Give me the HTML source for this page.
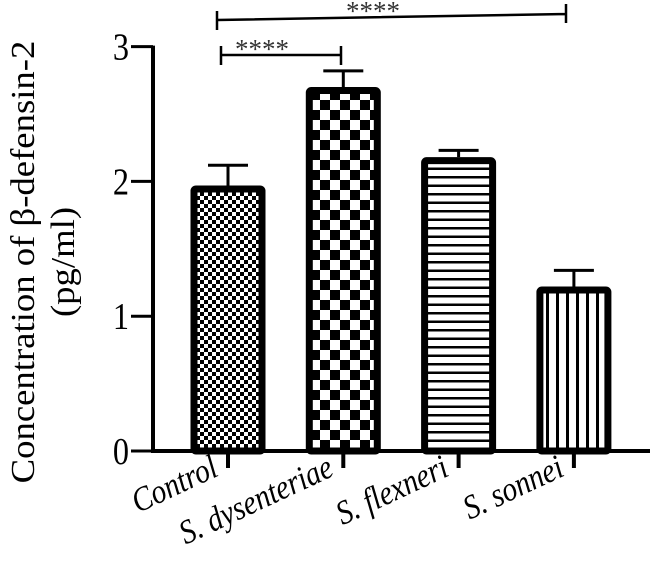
<!DOCTYPE html>
<html><head><meta charset="utf-8"><style>
html,body{margin:0;padding:0;background:#fff;}
svg{display:block;font-family:"Liberation Serif",serif;}
</style></head><body>
<svg id="chart" width="650" height="572" viewBox="0 0 650 572">
<defs>
<pattern id="pSmallCheck" width="8" height="8" patternUnits="userSpaceOnUse">
<rect width="8" height="8" fill="#fff"/><rect width="4" height="4" fill="#000"/><rect x="4" y="4" width="4" height="4" fill="#000"/></pattern>
<pattern id="pBigCheck" width="20" height="20" patternUnits="userSpaceOnUse">
<rect width="20" height="20" fill="#fff"/><rect width="10" height="10" fill="#000"/><rect x="10" y="10" width="10" height="10" fill="#000"/></pattern>
<pattern id="pHoriz" width="10" height="8.5" patternUnits="userSpaceOnUse">
<rect width="10" height="8.5" fill="#fff"/><rect y="6" width="10" height="2.5" fill="#000"/></pattern>
<pattern id="pVert" width="10" height="10" patternUnits="userSpaceOnUse">
<rect width="10" height="10" fill="#fff"/><rect x="6" width="3" height="10" fill="#000"/></pattern>
</defs>
<g id="bars"></g>
<g id="axes"></g>
<text transform="translate(34,262) rotate(-90) scale(1.08,1)" text-anchor="middle" font-size="34">Concentration of β-defensin-2</text>
<text transform="translate(74,262) rotate(-90) scale(1.08,1)" text-anchor="middle" font-size="34">(pg/ml)</text>
<g stroke="#000" stroke-width="2.5" fill="none">
<path d="M217,20 L566,14 M217,11 V30 M566,4 V23"/></g>
<text x="373" y="20" text-anchor="middle" font-size="27" fill="#333">****</text>
<g stroke="#000" stroke-width="2.5" fill="none">
<path d="M221,55 H341 M221,46 V65 M341,46 V65"/></g>
<text x="262" y="58" text-anchor="middle" font-size="27" fill="#333">****</text>
<script>
const categories = ["Control","S. dysenteriae","S. flexneri","S. sonnei"];
const means = [1.97, 2.70, 2.18, 1.22];
const errors = [0.15, 0.12, 0.05, 0.12];
const yTicks = [0,1,2,3];
const fills = ["url(#pSmallCheck)","url(#pBigCheck)","url(#pHoriz)","url(#pVert)"];
const NS="http://www.w3.org/2000/svg";
const y0=451, pxPerUnit=134.8, xAxis=153;
function yScale(v){return y0 - v*pxPerUnit;}
function xScale(i){return 228 + i*115.3;}
const bars=document.getElementById('bars'), axes=document.getElementById('axes');
function mk(tag,attrs,parent){const e=document.createElementNS(NS,tag);for(const k in attrs)e.setAttribute(k,attrs[k]);parent.appendChild(e);return e;}
categories.forEach((c,i)=>{
  const cx=xScale(i), top=yScale(means[i]), et=yScale(means[i]+errors[i]);
  const eb=mk('path',{d:`M${cx},${top} V${et} M${cx-20},${et} H${cx+20}`,stroke:'#000','stroke-width':3,fill:'none'},bars);
  
  
  const r=mk('rect',{x:cx-34,y:top+3.5,width:68,height:y0-top-3.5,fill:fills[i],stroke:'#000','stroke-width':7,rx:2},bars);
  
  
  const t=mk('path',{d:`M${cx},${y0} V${y0+17}`,stroke:'#000','stroke-width':4},axes);
  
  
  const lbl=mk('text',{transform:`translate(${cx-8},${y0+24}) rotate(-25) scale(0.95,1.1)`,'text-anchor':'end','font-size':31,'font-style':'italic'},axes);
  lbl.textContent=c;
  
  
});
const ya=mk('path',{d:`M${xAxis},${yScale(3)-1} V${y0+2}`,stroke:'#000','stroke-width':4},axes);


const xa=mk('path',{d:`M${xAxis-2},${y0} H650`,stroke:'#000','stroke-width':4},axes);


yTicks.forEach(v=>{
  const y=yScale(v);
  const t=mk('path',{d:`M${xAxis-22},${y} H${xAxis}`,stroke:'#000','stroke-width':3},axes);
  
  
  const l=mk('text',{transform:`translate(${xAxis-24},${y+13}) scale(0.85,1)`,'text-anchor':'end','font-size':38},axes);
  l.textContent=v;
  
  
});
</script>
</svg>
</body></html>
